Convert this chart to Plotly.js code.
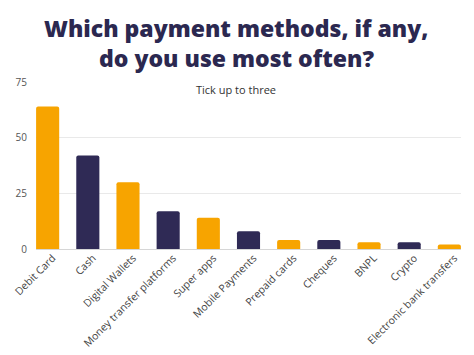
<!DOCTYPE html>
<html>
<head>
<meta charset="utf-8">
<script src="https://cdn.plot.ly/plotly-3.0.1.min.js"></script>
<style>html,body{margin:0;padding:0;background:#fff}</style>
</head>
<body>
<div id="chart" style="width:474px;height:355px"></div>
<script>
const categories = ["Debit Card","Cash","Digital Wallets","Money transfer platforms","Super apps","Mobile Payments","Prepaid cards","Cheques","BNPL","Crypto","Electronic bank transfers"];
const values = [64, 42, 30, 17, 14, 8, 4, 4, 3, 3, 2];
const yTicks = [0, 25, 50, 75];
const titleLines = ["Which payment methods, if any,", "do you use most often?"];
const subtitle = "Tick up to three";

const orange = "#F7A400", navy = "#2F2A55";
const colors = categories.map((c, i) => i % 2 === 0 ? orange : navy);

const trace = {
  type: "bar",
  x: categories,
  y: values,
  marker: {color: colors, cornerradius: 2},
  hoverinfo: "x+y"
};

const titleFont = {size: 23, family: "Open Sans, sans-serif", weight: 800, color: "#2B2850"};

const layout = {
  width: 474, height: 355,
  margin: {l: 36, r: 13, t: 82, b: 106},
  paper_bgcolor: "#fff", plot_bgcolor: "#fff",
  showlegend: false,
  bargap: 0.425,
  font: {family: "Open Sans, sans-serif", color: "#444"},
  xaxis: {
    range: [-0.29, 10.29],
    tickangle: -45,
    tickfont: {size: 10.5, color: "#444", family: "Open Sans, sans-serif"},
    ticklabelshift: 5,
    showgrid: false, showline: false, zeroline: false, ticks: ""
  },
  yaxis: {
    range: [0, 75],
    tickvals: yTicks,
    tickfont: {size: 10, color: "#555", family: "Open Sans, sans-serif"},
    gridcolor: "#e9e9e9", gridwidth: 1,
    zeroline: true, zerolinecolor: "#d6d6d6", zerolinewidth: 1,
    showline: false, ticks: "", ticklabelstandoff: 8
  },
  annotations: [
    {text: titleLines[0], xref: "paper", yref: "paper", x: 0.47, y: 0, xanchor: "center", yanchor: "middle",
     showarrow: false, borderpad: 0, font: titleFont},
    {text: titleLines[1], xref: "paper", yref: "paper", x: 0.47, y: 0, xanchor: "center", yanchor: "middle",
     showarrow: false, borderpad: 0, font: titleFont},
    {text: subtitle, xref: "paper", yref: "paper", x: 0.47, y: 0, xanchor: "center", yanchor: "middle",
     showarrow: false, borderpad: 0, font: {size: 11, family: "Open Sans, sans-serif", color: "#333"}}
  ]
};

const plotH = 355 - 82 - 106;
function yPaper(px) { return (355 - 106 - px) / plotH; }
layout.annotations[0].y = yPaper(28);
layout.annotations[1].y = yPaper(58);
layout.annotations[2].y = yPaper(89);
layout.annotations.forEach(a => { a.x = (236 - 36) / (474 - 36 - 13); });

Plotly.newPlot("chart", [trace], layout, {displayModeBar: false, staticPlot: true});
</script>
</body>
</html>
